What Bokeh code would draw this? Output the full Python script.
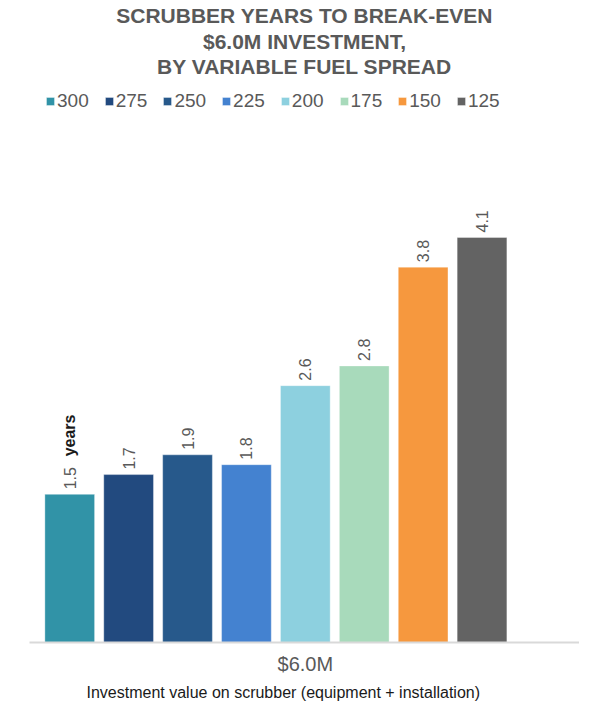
import numpy as np
from bokeh.plotting import figure
from bokeh.models import ColumnDataSource, Range1d, FixedTicker, Title
from bokeh.core.properties import value
from bokeh.embed import file_html
from bokeh.resources import INLINE

# ---- data ----
title_lines = ["SCRUBBER YEARS TO BREAK-EVEN", "$6.0M INVESTMENT,", "BY VARIABLE FUEL SPREAD"]
category = "$6.0M"
spreads = ["300", "275", "250", "225", "200", "175", "150", "125"]
years = [1.5, 1.7, 1.9, 1.8, 2.6, 2.8, 3.8, 4.1]
value_labels = ["1.5", "1.7", "1.9", "1.8", "2.6", "2.8", "3.8", "4.1"]
unit_label = "years"
colors = ["#3193A7", "#224A7F", "#27598B", "#4482D0", "#8DD0DF", "#A8DABB", "#F6983E", "#636363"]
x_caption = "Investment value on scrubber (equipment + installation)"

FONT = "Liberation Sans"
GRAY = "#595959"

pos = np.arange(len(spreads))
group_center = len(spreads) // 2
src = ColumnDataSource(dict(x=pos, top=years, spread=spreads, color=colors, label=value_labels))

p = figure(width=579, height=705, output_backend="svg", toolbar_location=None, title=None,
           x_range=Range1d(-0.683, 8.655), y_range=Range1d(0, 5.72),
           min_border_left=29, min_border_right=0, min_border_top=0, min_border_bottom=63)

# title: one centred Title per line (outermost added last)
n_lines = len(title_lines)
for i, line in enumerate(reversed(title_lines)):
    p.add_layout(Title(text=line, align="center", standoff=2 if i == n_lines - 1 else 0,
                       text_font=FONT, text_font_size="21px", text_font_style="bold",
                       text_color=GRAY), "above")

p.vbar(x="x", top="top", width=0.844, source=src, fill_color="color",
       line_color="white", line_alpha=0.35, line_width=1, legend_field="spread")

p.text(x="x", y="top", text="label", source=src, angle=np.pi / 2,
       text_align="left", text_baseline="middle", y_offset=-5,
       text_font=value(FONT), text_font_size="16px", text_color=GRAY)
p.text(x=[pos[0]], y=[years[0]], text=[unit_label], angle=np.pi / 2,
       text_align="left", text_baseline="middle", y_offset=-38,
       text_font=value(FONT), text_font_size="16px", text_font_style="bold",
       text_color="#1A1A1A")

leg = p.legend[0]
leg.orientation = "horizontal"
leg.location = (16, 530)
leg.glyph_width = 10
leg.glyph_height = 10
leg.label_standoff = 2
leg.spacing = 15
leg.padding = 0
leg.margin = 0
leg.border_line_color = None
leg.background_fill_alpha = 0
leg.label_text_font = FONT
leg.label_text_font_size = "19px"
leg.label_text_color = GRAY

xa = p.xaxis[0]
xa.ticker = FixedTicker(ticks=[group_center])
xa.major_label_overrides = {group_center: category}
xa.axis_line_color = "#D9D9D9"
xa.axis_line_width = 2
xa.major_tick_line_color = None
xa.minor_tick_line_color = None
xa.major_label_standoff = 4
xa.major_label_text_font = FONT
xa.major_label_text_font_size = "20px"
xa.major_label_text_color = GRAY

p.yaxis.visible = False
p.xgrid.visible = False
p.ygrid.visible = False
p.outline_line_color = None

p.add_layout(Title(text=x_caption, align="left", offset=57, standoff=8,
                   text_font=FONT, text_font_size="16px", text_font_style="normal",
                   text_color="#1A1A1A"), "below")

open("out.html", "w").write(file_html(p, INLINE))
